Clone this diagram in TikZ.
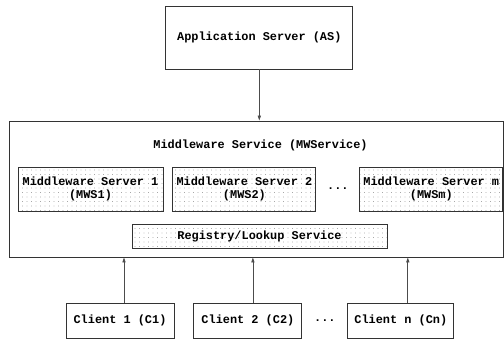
\documentclass[tikz,border=0pt]{standalone}
\usepackage{fontspec}
\setmonofont{Liberation Mono}
\usepackage{tikz}
\usetikzlibrary{
    arrows.meta,
    positioning,
    patterns.meta,
    calc
}
\definecolor{Edge}{RGB}{51, 51, 51}
\definecolor{Dotc}{RGB}{120, 120, 120}
\tikzset{
    sbox/.style={
        rectangle, draw=Edge, line width=0.9pt, fill=white,
        align=center, font=\fontsize{11.9}{13}\selectfont\ttfamily\bfseries,
        inner sep=2pt
    },
    dbox/.style={
        sbox, pattern={Dots[distance=4.5pt, radius=0.45pt]}, pattern color=Dotc
    },
    plain/.style={font=\fontsize{11.9}{13}\selectfont\ttfamily\bfseries, inner sep=1pt},
    sarr/.style={-{Triangle[length=5pt, width=3.2pt]}, line width=0.8pt, black!70},
}

\begin{document}
\begin{tikzpicture}[x=1pt, y=-1pt]
    \useasboundingbox (0,0) rectangle (504,341);

    % ── 顶部应用服务器 ─────────────────────────────────
    \node [sbox, minimum width=187pt, minimum height=63pt]
        (as) at (259.3,37.5) {Application Server (AS)};

    % ── 中间件服务外框 ─────────────────────────────────
    \node [sbox, minimum width=494pt, minimum height=136pt]
        (mws) at (256.5,189) {};
    \node [plain] (mwtitle) at (260.5,145) {Middleware Service (MWService)};

    \node [dbox, minimum width=145pt, minimum height=44pt]
        (s1) at (90.5,189) {Middleware Server 1\\(MWS1)};
    \node [dbox, right=9pt of s1, minimum width=143pt, minimum height=44pt]
        (s2) {Middleware Server 2\\(MWS2)};
    \node [dbox, right=43pt of s2, minimum width=143pt, minimum height=44pt]
        (sm) {Middleware Server m\\(MWSm)};
    \node [plain] (sdots) at ($(s2.east)!0.5!(sm.west)$) {...};

    \node [dbox, minimum width=255pt, minimum height=24pt]
        (reg) at (259.5,236) {Registry/Lookup Service};

    % ── 底部客户端 ─────────────────────────────────────
    \node [sbox, minimum width=108pt, minimum height=35pt]
        (c1) at (120,320.5) {Client 1 (C1)};
    \node [sbox, right=19pt of c1, minimum width=108pt, minimum height=35pt]
        (c2) {Client 2 (C2)};
    \node [sbox, right=45pt of c2, minimum width=106pt, minimum height=35pt]
        (cn) {Client n (Cn)};
    \node [plain] (cdots) at ($(c2.east)!0.5!(cn.west)$) {...};

    % ── 箭头 ──────────────────────────────────────────
    \draw [sarr] (as.south) -- (as.south |- mws.north);
    \draw [sarr] ([xshift=4pt]c1.north) -- ([xshift=4pt]c1.north |- mws.south);
    \draw [sarr] ([xshift=5pt]c2.north) -- ([xshift=5pt]c2.north |- mws.south);
    \draw [sarr] ([xshift=7pt]cn.north) -- ([xshift=7pt]cn.north |- mws.south);

\end{tikzpicture}
\end{document}
